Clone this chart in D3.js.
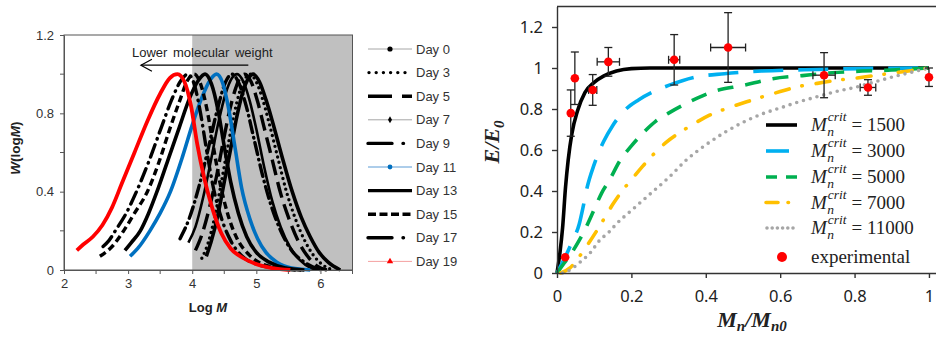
<!DOCTYPE html>
<html>
<head>
<meta charset="utf-8">
<script src="https://cdn.jsdelivr.net/npm/d3@7"></script>
<style>
  body { margin: 0; background: #fff; }
  svg { display: block; }
</style>
</head>
<body>
<div id="chart"></div>
<script>
// ---- left panel: molecular weight distributions ----
const dayNames = ['Day 0', 'Day 3', 'Day 5', 'Day 7', 'Day 9', 'Day 11', 'Day 13', 'Day 15', 'Day 17', 'Day 19'];

const day0 = [[4.22,0.07],[4.3,0.15],[4.4,0.28],[4.5,0.45],[4.6,0.62],[4.7,0.79],[4.8,0.92],[4.88,0.98],[4.95,1.0],[5.05,0.96],[5.15,0.87],[5.25,0.76],[5.4,0.58],[5.56,0.4],[5.7,0.27],[5.84,0.17],[5.98,0.09],[6.12,0.04],[6.31,0.0]];
const day3 = [[4.15,0.06],[4.25,0.14],[4.35,0.27],[4.45,0.44],[4.55,0.62],[4.65,0.79],[4.75,0.92],[4.83,0.98],[4.9,1.0],[5.0,0.96],[5.1,0.87],[5.2,0.75],[5.33,0.58],[5.47,0.4],[5.6,0.27],[5.74,0.16],[5.88,0.08],[6.02,0.03],[6.2,0.0]];
const day5 = [[4.05,0.1],[4.15,0.18],[4.27,0.32],[4.38,0.48],[4.48,0.65],[4.58,0.81],[4.68,0.93],[4.76,0.99],[4.82,1.0],[4.92,0.96],[5.02,0.86],[5.12,0.73],[5.25,0.56],[5.38,0.39],[5.5,0.27],[5.65,0.15],[5.8,0.07],[5.95,0.02],[6.1,0.0]];
const day7 = [[3.94,0.14],[4.05,0.22],[4.17,0.37],[4.28,0.54],[4.4,0.74],[4.52,0.9],[4.62,0.98],[4.7,1.0],[4.8,0.96],[4.9,0.86],[5.0,0.72],[5.12,0.53],[5.25,0.35],[5.38,0.22],[5.52,0.12],[5.68,0.05],[5.85,0.01],[6.0,0.0]];
const day9 = [[3.81,0.16],[3.95,0.26],[4.1,0.42],[4.25,0.62],[4.4,0.83],[4.52,0.96],[4.62,1.0],[4.72,0.96],[4.84,0.84],[4.97,0.66],[5.1,0.48],[5.23,0.33],[5.38,0.2],[5.55,0.1],[5.75,0.04],[6.0,0.0]];
const day11 = [[3.03,0.07],[3.15,0.11],[3.34,0.2],[3.5,0.29],[3.66,0.4],[3.85,0.58],[4.0,0.74],[4.15,0.88],[4.28,0.97],[4.38,1.0],[4.48,0.95],[4.57,0.82],[4.67,0.62],[4.77,0.42],[4.9,0.26],[5.02,0.16],[5.15,0.09],[5.32,0.04],[5.55,0.01],[5.84,0.0]];
const day13 = [[2.95,0.10],[3.05,0.14],[3.19,0.2],[3.32,0.29],[3.45,0.4],[3.62,0.56],[3.8,0.73],[3.95,0.87],[4.1,0.97],[4.2,1.0],[4.3,0.95],[4.4,0.82],[4.5,0.63],[4.6,0.45],[4.72,0.29],[4.85,0.17],[5.0,0.09],[5.2,0.04],[5.45,0.01],[5.75,0.0]];
const day15 = [[2.56,0.07],[2.75,0.12],[2.93,0.2],[3.1,0.29],[3.3,0.4],[3.48,0.55],[3.65,0.72],[3.8,0.86],[3.93,0.97],[4.03,1.0],[4.13,0.95],[4.23,0.82],[4.33,0.63],[4.43,0.45],[4.55,0.29],[4.7,0.16],[4.88,0.08],[5.1,0.03],[5.4,0.01],[5.7,0.0]];
const day17 = [[2.61,0.12],[2.7,0.15],[2.8,0.2],[2.97,0.29],[3.13,0.4],[3.33,0.56],[3.52,0.73],[3.68,0.87],[3.83,0.97],[3.93,1.0],[4.03,0.95],[4.13,0.8],[4.23,0.6],[4.33,0.42],[4.45,0.27],[4.6,0.15],[4.78,0.07],[5.0,0.03],[5.3,0.01],[5.6,0.0]];
const day19 = [[2.2,0.10],[2.3,0.13],[2.45,0.17],[2.6,0.23],[2.75,0.32],[2.9,0.44],[3.1,0.6],[3.3,0.76],[3.5,0.9],[3.65,0.98],[3.77,1.0],[3.88,0.96],[3.98,0.84],[4.08,0.64],[4.18,0.48],[4.3,0.33],[4.45,0.19],[4.6,0.11],[4.8,0.06],[5.0,0.03],[5.25,0.01],[5.53,0.0]];

const leftXTicks = [2, 3, 4, 5, 6];
const leftXMinor = [2.5, 3.5, 4.5, 5.5, 6.5];
const leftYTicks = [0, 0.4, 0.8, 1.2];
const leftYMinor = [0.2, 0.6, 1.0];

// ---- right panel: modulus vs Mn ----
const critLabels = ['1500', '3000', '5000', '7000', '11000'];
const crit1500 = [[0,0],[0.008,0.1],[0.015,0.22],[0.023,0.42],[0.03,0.55],[0.04,0.68],[0.055,0.79],[0.075,0.88],[0.1,0.93],[0.125,0.96],[0.16,0.985],[0.2,0.997],[0.25,1.0],[0.5,1.0],[0.75,1.0],[1.0,1.0]];
const crit3000 = [[0,0],[0.02,0.07],[0.04,0.15],[0.06,0.24],[0.07,0.32],[0.08,0.41],[0.1,0.53],[0.125,0.64],[0.15,0.72],[0.18,0.79],[0.22,0.845],[0.26,0.885],[0.3,0.915],[0.37,0.955],[0.45,0.972],[0.55,0.985],[0.7,0.993],[0.85,0.998],[1.0,1.0]];
const crit5000 = [[0,0],[0.02,0.05],[0.04,0.1],[0.06,0.16],[0.08,0.23],[0.1,0.31],[0.12,0.39],[0.14,0.45],[0.17,0.55],[0.2,0.62],[0.235,0.69],[0.265,0.74],[0.3,0.78],[0.34,0.82],[0.38,0.855],[0.42,0.885],[0.5,0.915],[0.58,0.948],[0.66,0.963],[0.74,0.977],[0.82,0.985],[0.9,0.99],[1.0,1.0]];
const crit7000 = [[0.01,0],[0.035,0.025],[0.06,0.08],[0.085,0.145],[0.11,0.215],[0.13,0.275],[0.15,0.335],[0.175,0.4],[0.2,0.455],[0.23,0.52],[0.26,0.58],[0.295,0.64],[0.33,0.685],[0.37,0.73],[0.41,0.77],[0.46,0.805],[0.51,0.835],[0.55,0.858],[0.6,0.885],[0.65,0.91],[0.7,0.925],[0.75,0.94],[0.8,0.95],[0.85,0.962],[0.9,0.975],[0.95,0.987],[1.0,1.0]];
const crit11000 = [[0.015,0],[0.035,0.015],[0.06,0.05],[0.09,0.1],[0.115,0.16],[0.14,0.2],[0.16,0.24],[0.2,0.305],[0.25,0.385],[0.3,0.465],[0.35,0.555],[0.4,0.625],[0.45,0.685],[0.5,0.735],[0.55,0.775],[0.6,0.805],[0.65,0.835],[0.7,0.86],[0.75,0.885],[0.8,0.905],[0.85,0.93],[0.9,0.955],[0.95,0.978],[1.0,1.0]];

const expX = [0.022, 0.037, 0.048, 0.096, 0.138, 0.315, 0.46, 0.718, 0.836, 1.0];
const expY = [0.077, 0.78, 0.95, 0.893, 1.03, 1.04, 1.10, 0.965, 0.905, 0.955];
const expYErr = [0, 0.113, 0.128, 0.075, 0.07, 0.123, 0.17, 0.11, 0.038, 0.045];
const expXErr = [0, 0, 0, 0.011, 0.03, 0.015, 0.047, 0.03, 0.021, 0];

const rightXTicks = [0, 0.2, 0.4, 0.6, 0.8, 1];
const rightYTicks = [0, 0.2, 0.4, 0.6, 0.8, 1, 1.2];

const svg = d3.select('#chart').append('svg')
  .attr('width', 936)
  .attr('height', 337);

drawLeft();
drawRight();

function drawLeft() {
  const x = d3.scaleLinear().domain([2, 6.5]).range([64, 352.5]);
  const y = d3.scaleLinear().domain([0, 1.2]).range([270, 35]);
  const g = svg.append('g');
  const sans = 'Liberation Sans, Arial, sans-serif';

  g.append('rect')
    .attr('x', x(4)).attr('y', y(1.2))
    .attr('width', x(6.5) - x(4)).attr('height', y(0) - y(1.2))
    .attr('fill', '#c0c0c0');

  // frame
  g.append('rect')
    .attr('x', x(2)).attr('y', y(1.2))
    .attr('width', x(6.5) - x(2)).attr('height', y(0) - y(1.2))
    .attr('fill', 'none').attr('stroke', '#555').attr('stroke-width', 1);

  const styles = [
    { data: day0, color: '#000', width: 3.6, dash: null },
    { data: day3, color: '#000', width: 3.4, dash: '0,5.5', cap: 'round' },
    { data: day5, color: '#000', width: 3.4, dash: '16,7' },
    { data: day7, color: '#000', width: 2.6, dash: null },
    { data: day9, color: '#000', width: 3.4, dash: '12,5,0.5,5', cap: 'round' },
    { data: day11, color: '#0070c0', width: 3.6, dash: null },
    { data: day13, color: '#000', width: 3.6, dash: null },
    { data: day15, color: '#000', width: 3.4, dash: '7,4' },
    { data: day17, color: '#000', width: 3.4, dash: '13,6,0.5,6', cap: 'round' },
    { data: day19, color: '#ff0000', width: 3.8, dash: null }
  ];

  const line = d3.line()
    .x(d => x(d[0]))
    .y(d => y(d[1]))
    .curve(d3.curveMonotoneX);

  styles.forEach(s => {
    g.append('path')
      .datum(s.data)
      .attr('fill', 'none')
      .attr('stroke', s.color)
      .attr('stroke-width', s.width)
      .attr('stroke-dasharray', s.dash)
      .attr('stroke-linecap', s.cap || 'butt')
      .attr('d', line);
  });

  // axes
  const xAxis = g.append('g')
    .attr('transform', 'translate(0,' + y(0) + ')')
    .call(d3.axisBottom(x).tickValues(leftXTicks).tickSize(4).tickSizeOuter(0).tickPadding(5).tickFormat(d3.format('d')));
  xAxis.append('g').selectAll('line').data(leftXMinor).join('line')
    .attr('x1', d => x(d)).attr('x2', d => x(d)).attr('y1', 0).attr('y2', 4)
    .attr('stroke', '#555');

  const yAxis = g.append('g')
    .attr('transform', 'translate(' + x(2) + ',0)')
    .call(d3.axisLeft(y).tickValues(leftYTicks).tickSize(4).tickSizeOuter(0).tickPadding(6).tickFormat(d => String(d)));
  yAxis.append('g').selectAll('line').data(leftYMinor).join('line')
    .attr('x1', -4).attr('x2', 0).attr('y1', d => y(d)).attr('y2', d => y(d))
    .attr('stroke', '#555');

  [xAxis, yAxis].forEach(a => {
    a.select('.domain').attr('stroke', '#555');
    a.selectAll('.tick line').attr('stroke', '#555');
    a.selectAll('text').attr('font-family', sans).attr('font-size', 13).attr('fill', '#333');
  });

  // axis titles
  const xt = g.append('text')
    .attr('x', 208).attr('y', 312)
    .attr('text-anchor', 'middle')
    .attr('font-family', sans).attr('font-size', 13).attr('font-weight', 'bold').attr('fill', '#222');
  xt.append('tspan').text('Log ');
  xt.append('tspan').attr('font-style', 'italic').text('M');

  const yt = g.append('text')
    .attr('transform', 'translate(20,148) rotate(-90)')
    .attr('text-anchor', 'middle')
    .attr('font-family', sans).attr('font-size', 13.5).attr('font-weight', 'bold').attr('fill', '#222');
  yt.append('tspan').attr('font-style', 'italic').text('W');
  yt.append('tspan').text('(log');
  yt.append('tspan').attr('font-style', 'italic').text('M');
  yt.append('tspan').text(')');

  // annotation
  g.append('text')
    .attr('x', x(3.06)).attr('y', y(1.087))
    .attr('font-family', sans).attr('font-size', 13).attr('fill', '#222')
    .attr('word-spacing', 2)
    .text('Lower molecular weight');
  const ay = y(1.046);
  g.append('line')
    .attr('x1', x(4.875)).attr('x2', x(3.2)).attr('y1', ay).attr('y2', ay)
    .attr('stroke', '#000').attr('stroke-width', 1.2);
  g.append('path')
    .attr('d', 'M' + (x(3.2) + 11) + ',' + (ay - 6) + 'L' + x(3.2) + ',' + ay + 'L' + (x(3.2) + 11) + ',' + (ay + 6))
    .attr('fill', 'none').attr('stroke', '#000').attr('stroke-width', 1.2);

  // legend
  const lx0 = 368, lx1 = 412, ly0 = 49, step = 23.6;
  const leg = g.append('g');
  dayNames.forEach((name, i) => {
    const ly = ly0 + i * step;
    const row = leg.append('g');
    const s = styles[i];
    if (i === 0 || i === 3 || i === 5 || i === 9) {
      const thin = i === 5 ? '#5b9bd5' : (i === 9 ? '#f4a0a0' : '#a6a6a6');
      row.append('line').attr('x1', lx0).attr('x2', lx1).attr('y1', ly).attr('y2', ly)
        .attr('stroke', thin).attr('stroke-width', 1);
      const cx = (lx0 + lx1) / 2;
      if (i === 0 || i === 5) {
        row.append('circle').attr('cx', cx).attr('cy', ly).attr('r', i === 0 ? 2.6 : 2.4).attr('fill', s.color);
      } else if (i === 3) {
        row.append('path').attr('d', d3.symbol(d3.symbolDiamond, 14)()).attr('transform', 'translate(' + cx + ',' + ly + ')').attr('fill', '#000');
      } else {
        row.append('path').attr('d', d3.symbol(d3.symbolTriangle, 18)()).attr('transform', 'translate(' + cx + ',' + ly + ')').attr('fill', s.color);
      }
    } else {
      let dash = s.dash;
      if (i === 2) dash = '24,10,10';
      if (i === 4 || i === 8) dash = '24,11,0.5,30';
      if (i === 1) dash = '0,7.2';
      if (i === 7) dash = '8,3.5';
      row.append('line').attr('x1', i === 1 ? lx0 + 1 : lx0).attr('x2', lx1).attr('y1', ly).attr('y2', ly)
        .attr('stroke', '#000').attr('stroke-width', 3.4)
        .attr('stroke-dasharray', dash)
        .attr('stroke-linecap', (i === 1 || i === 4 || i === 8) ? 'round' : 'butt');
    }
    row.append('text')
      .attr('x', 416).attr('y', ly + 4.6)
      .attr('font-family', sans).attr('font-size', 13).attr('fill', '#333')
      .text(name);
  });
}

function drawRight() {
  const x = d3.scaleLinear().domain([0, 1.02]).range([557, 936.4]);
  const y = d3.scaleLinear().domain([0, 1.3]).range([273, 6.5]);
  const g = svg.append('g');
  const serif = 'Liberation Serif, Times New Roman, serif';
  const sans = 'Noto Sans, Open Sans, sans-serif';

  const styles = [
    { data: crit1500, color: '#000000', dash: null, cap: 'butt' },
    { data: crit3000, color: '#00b0f0', dash: '30,15', cap: 'butt' },
    { data: crit5000, color: '#00b050', dash: '16,12', cap: 'butt' },
    { data: crit7000, color: '#ffc000', dash: '14,13,0.5,14', cap: 'round' },
    { data: crit11000, color: '#a6a6a6', dash: '0,7', cap: 'round' }
  ];

  const line = d3.line()
    .x(d => x(d[0]))
    .y(d => y(d[1]))
    .curve(d3.curveMonotoneX);

  styles.forEach(s => {
    g.append('path')
      .datum(s.data)
      .attr('fill', 'none')
      .attr('stroke', s.color)
      .attr('stroke-width', 3.6)
      .attr('stroke-dasharray', s.dash)
      .attr('stroke-linecap', s.cap)
      .attr('d', line);
  });

  // error bars
  const eb = g.append('g').attr('stroke', '#222').attr('stroke-width', 1.3);
  const cap = 4;
  expX.forEach((vx, i) => {
    const cx = x(vx), cy = y(expY[i]);
    if (expYErr[i] > 0) {
      const t = y(expY[i] + expYErr[i]), b = y(expY[i] - expYErr[i]);
      eb.append('line').attr('x1', cx).attr('x2', cx).attr('y1', t).attr('y2', b);
      eb.append('line').attr('x1', cx - cap).attr('x2', cx + cap).attr('y1', t).attr('y2', t);
      eb.append('line').attr('x1', cx - cap).attr('x2', cx + cap).attr('y1', b).attr('y2', b);
    }
    if (expXErr[i] > 0) {
      const l = x(vx - expXErr[i]), r = x(vx + expXErr[i]);
      eb.append('line').attr('x1', l).attr('x2', r).attr('y1', cy).attr('y2', cy);
      eb.append('line').attr('x1', l).attr('x2', l).attr('y1', cy - cap).attr('y2', cy + cap);
      eb.append('line').attr('x1', r).attr('x2', r).attr('y1', cy - cap).attr('y2', cy + cap);
    }
  });

  g.append('g').selectAll('circle').data(expX).join('circle')
    .attr('cx', d => x(d))
    .attr('cy', (d, i) => y(expY[i]))
    .attr('r', 4.3)
    .attr('fill', '#ff0000');

  // axes
  const xAxis = g.append('g')
    .attr('transform', 'translate(0,' + y(0) + ')')
    .call(d3.axisBottom(x).tickValues(rightXTicks).tickSize(5).tickSizeOuter(0).tickPadding(12).tickFormat(d => String(d)));
  const yAxis = g.append('g')
    .attr('transform', 'translate(' + x(0) + ',0)')
    .call(d3.axisLeft(y).tickValues(rightYTicks).tickSize(5).tickSizeOuter(0).tickPadding(9).tickFormat(d => String(d)));
  [xAxis, yAxis].forEach(a => {
    a.select('.domain').attr('stroke', '#333').attr('stroke-width', 1.4);
    a.selectAll('.tick line').attr('stroke', '#333').attr('stroke-width', 1.4);
    a.selectAll('text').attr('font-family', sans).attr('font-size', 16.5).attr('fill', '#222');
  });
  g.append('line')
    .attr('x1', x(0)).attr('x2', 936).attr('y1', y(1.3)).attr('y2', y(1.3))
    .attr('stroke', '#333').attr('stroke-width', 1.4);

  // axis titles
  const xt = g.append('text')
    .attr('x', 752).attr('y', 327)
    .attr('text-anchor', 'middle')
    .attr('font-family', serif).attr('font-size', 22).attr('font-weight', 'bold').attr('font-style', 'italic').attr('fill', '#222');
  xt.append('tspan').text('M');
  xt.append('tspan').attr('font-size', 15).attr('dy', 4).text('n');
  xt.append('tspan').attr('dy', -4).text('/M');
  xt.append('tspan').attr('font-size', 15).attr('dy', 4).text('n0');

  const yt = g.append('text')
    .attr('transform', 'translate(499,142) rotate(-90)')
    .attr('text-anchor', 'middle')
    .attr('font-family', serif).attr('font-size', 22).attr('font-weight', 'bold').attr('font-style', 'italic').attr('fill', '#222');
  yt.append('tspan').text('E/E');
  yt.append('tspan').attr('font-size', 15).attr('dy', 5).text('0');

  // legend
  const legDash = [null, '23,30', '11,9', '12,10,0.5,30', '0,5.2'];
  const lx0 = 766, lx1 = 797, tx = 811;
  const rowsY = [125, 151, 177, 202.5, 228];
  critLabels.forEach((lab, i) => {
    const ly = rowsY[i];
    g.append('line')
      .attr('x1', i === 4 ? lx0 + 1 : lx0).attr('x2', lx1).attr('y1', ly).attr('y2', ly)
      .attr('stroke', styles[i].color).attr('stroke-width', 3.6)
      .attr('stroke-dasharray', legDash[i])
      .attr('stroke-linecap', (i === 3 || i === 4) ? 'round' : 'butt');
    const m = g.append('text')
      .attr('x', tx).attr('y', ly + 6)
      .attr('font-family', serif).attr('font-size', 19).attr('font-style', 'italic').attr('fill', '#222')
      .text('M');
    const wM = m.node().getComputedTextLength();
    g.append('text')
      .attr('x', tx + wM + 0.5).attr('y', ly + 11)
      .attr('font-family', serif).attr('font-size', 13.5).attr('font-style', 'italic').attr('fill', '#222')
      .text('n');
    const c = g.append('text')
      .attr('x', tx + wM + 1).attr('y', ly - 4)
      .attr('font-family', serif).attr('font-size', 13.5).attr('font-style', 'italic').attr('fill', '#222')
      .text('crit');
    const wC = c.node().getComputedTextLength();
    g.append('text')
      .attr('x', tx + wM + wC + 6).attr('y', ly + 6)
      .attr('font-family', serif).attr('font-size', 19).attr('fill', '#222')
      .text('= ' + lab);
  });
  g.append('circle').attr('cx', 782).attr('cy', 257).attr('r', 5).attr('fill', '#ff0000');
  g.append('text')
    .attr('x', tx).attr('y', 263)
    .attr('font-family', serif).attr('font-size', 19).attr('fill', '#222')
    .text('experimental');
}
</script>
</body>
</html>
